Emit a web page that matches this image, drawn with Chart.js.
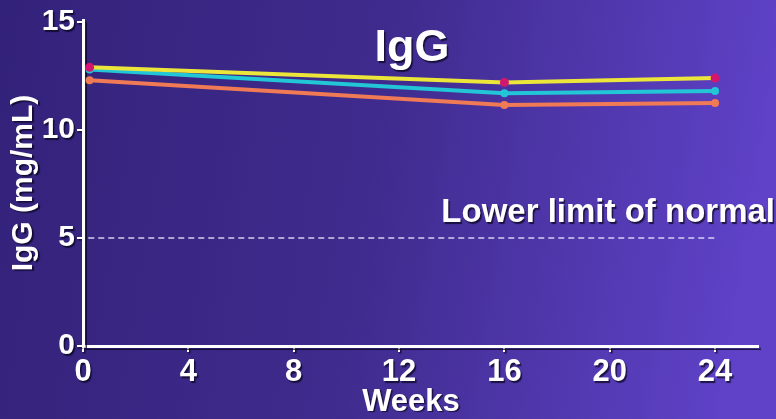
<!DOCTYPE html>
<html>
<head>
<meta charset="utf-8">
<script src="https://cdn.jsdelivr.net/npm/chart.js@4.4.1/dist/chart.umd.min.js"></script>
<style>
  html, body { margin: 0; padding: 0; background: #3a2884; }
  #wrap { width: 776px; height: 419px; position: relative; }
</style>
</head>
<body>
<div id="wrap"><canvas id="iggChart" width="776" height="419"></canvas></div>
<script>
// Data
const weeks = [0.25, 16, 24];
const yellowIgG = [12.9, 12.2, 12.4];
const cyanIgG = [12.8, 11.7, 11.8];
const orangeIgG = [12.3, 11.15, 11.25];
const lowerLimit = 5;
const limitWeeks = [0.2, 24.1];
const xTicks = [0, 4, 8, 12, 16, 20, 24];
const yTicks = [0, 5, 10, 15];

const FONT = "'Liberation Sans', Arial, sans-serif";

function toPoints(xs, ys) {
  return xs.map((x, i) => ({ x: x, y: ys[i] }));
}

function setShadow(ctx, on) {
  ctx.shadowColor = on ? "rgba(10, 5, 30, 0.75)" : "transparent";
  ctx.shadowOffsetX = on ? 1.5 : 0;
  ctx.shadowOffsetY = on ? 1.5 : 0;
  ctx.shadowBlur = on ? 1 : 0;
}

// background, shadows and the free text of the slide
const slidePlugin = {
  id: "slide",
  beforeDraw(chart) {
    const ctx = chart.ctx;
    const g = ctx.createLinearGradient(0, 0, chart.width, chart.height * 0.3);
    g.addColorStop(0, "#33227a");
    g.addColorStop(0.5, "#3f2b8d");
    g.addColorStop(1, "#5f42c8");
    ctx.save();
    ctx.fillStyle = g;
    ctx.fillRect(0, 0, chart.width, chart.height);
    ctx.restore();
    setShadow(ctx, true);
  },
  beforeDatasetsDraw(chart) {
    setShadow(chart.ctx, false);
  },
  afterDraw(chart) {
    const ctx = chart.ctx;
    const y = chart.scales.y;
    ctx.save();
    setShadow(ctx, true);
    ctx.fillStyle = "#ffffff";
    ctx.textBaseline = "middle";
    ctx.textAlign = "center";
    ctx.font = "bold 45px " + FONT;
    ctx.fillText("IgG", 412, 49);
    ctx.font = "bold 31px " + FONT;
    ctx.fillText("Weeks", 411, 402);
    ctx.font = "bold 33px " + FONT;
    ctx.textAlign = "right";
    ctx.fillText("Lower limit of normal", chart.width - 1, y.getPixelForValue(lowerLimit) - 25);
    ctx.restore();
  }
};

const ctx = document.getElementById("iggChart");
new Chart(ctx.getContext("2d"), {
  type: "line",
  data: {
    datasets: [
      {
        label: "Yellow",
        data: toPoints(weeks, yellowIgG),
        borderColor: "#ece63a",
        backgroundColor: "#d3166f",
        borderWidth: 4,
        pointRadius: 4.5,
        pointBorderWidth: 0,
        tension: 0,
      },
      {
        label: "Cyan",
        data: toPoints(weeks, cyanIgG),
        borderColor: "#22c6d6",
        backgroundColor: "#22c6d6",
        borderWidth: 4,
        pointRadius: 4,
        pointBorderWidth: 0,
        tension: 0,
      },
      {
        label: "Orange",
        data: toPoints(weeks, orangeIgG),
        borderColor: "#ef7a55",
        backgroundColor: "#ef7a55",
        borderWidth: 4,
        pointRadius: 4,
        pointBorderWidth: 0,
        tension: 0,
      },
      {
        label: "Lower limit",
        data: toPoints(limitWeeks, [lowerLimit, lowerLimit]),
        borderColor: "rgba(230, 225, 250, 0.9)",
        borderWidth: 1.5,
        borderDash: [6, 4],
        pointRadius: 0,
        fill: false,
      },
    ],
  },
  options: {
    responsive: false,
    animation: false,
    layout: { padding: { top: 20, right: 18, left: 0, bottom: 0 } },
    plugins: {
      legend: { display: false },
      tooltip: { enabled: false },
      title: { display: false },
    },
    scales: {
      x: {
        type: "linear",
        min: 0,
        max: 25.63,
        afterFit: (scale) => { scale.height = 73; },
        afterBuildTicks: (scale) => { scale.ticks = xTicks.map((v) => ({ value: v })); },
        border: { display: true, color: "#ffffff", width: 3 },
        grid: { drawOnChartArea: false, color: "#ffffff", lineWidth: 2, tickLength: 6 },
        ticks: {
          color: "#ffffff",
          padding: 2,
          maxRotation: 0,
          autoSkip: false,
          font: { family: FONT, size: 31, weight: "bold" },
        },
      },
      y: {
        type: "linear",
        min: 0,
        max: 15.09,
        afterFit: (scale) => { scale.width = 83; },
        afterBuildTicks: (scale) => { scale.ticks = yTicks.map((v) => ({ value: v })); },
        border: { display: true, color: "#ffffff", width: 3 },
        grid: { drawOnChartArea: false, color: "#ffffff", lineWidth: 2, tickLength: 6 },
        ticks: {
          color: "#ffffff",
          padding: 2,
          autoSkip: false,
          font: { family: FONT, size: 30, weight: "bold" },
        },
        title: {
          display: true,
          text: "IgG (mg/mL)",
          color: "#ffffff",
          font: { family: FONT, size: 30, weight: "bold", lineHeight: 1 },
          padding: { top: 9, bottom: 0 },
        },
      },
    },
  },
  plugins: [slidePlugin],
});
</script>
</body>
</html>
